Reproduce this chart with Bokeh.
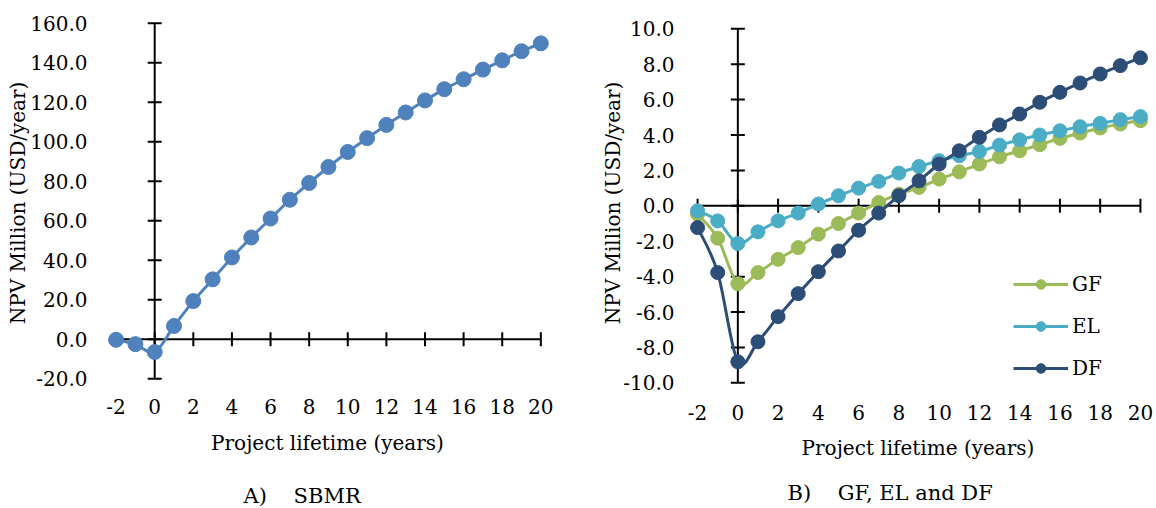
import math
from bokeh.plotting import figure
from bokeh.models import (LinearAxis, FixedTicker, NumeralTickFormatter, Range1d,
                          Legend, LegendItem, Title)
from bokeh.layouts import row
from bokeh.embed import file_html
from bokeh.resources import INLINE

# ---- data ----
years = list(range(-2, 21))
x_ticks = list(range(-2, 21, 2))
sbmr_ticks = list(range(-20, 161, 20))
right_ticks = list(range(-10, 11, 2))
sbmr = [-0.3, -2.5, -6.5, 6.7, 19.3, 30.3, 41.4, 51.5, 61.1, 70.6, 79.1, 87.2, 94.8,
        101.8, 108.5, 114.8, 120.9, 126.6, 131.6, 136.5, 141.2, 145.8, 149.8]
gf = [-0.47, -1.83, -4.4, -3.77, -3.02, -2.36, -1.6, -1.0, -0.41, 0.19, 0.66, 1.04, 1.51,
      1.92, 2.36, 2.77, 3.11, 3.45, 3.81, 4.11, 4.4, 4.62, 4.81]
el = [-0.28, -0.85, -2.13, -1.47, -0.85, -0.41, 0.1, 0.57, 1.0, 1.38, 1.85, 2.22, 2.55,
      2.83, 3.07, 3.43, 3.73, 4.0, 4.24, 4.47, 4.66, 4.87, 5.04]
df = [-1.23, -3.77, -8.81, -7.68, -6.26, -4.96, -3.72, -2.55, -1.38, -0.41, 0.57, 1.41, 2.36,
      3.11, 3.87, 4.57, 5.19, 5.85, 6.41, 6.94, 7.45, 7.92, 8.36]

FONT = "DejaVu Serif"
FS = "20px"


def smooth_segments(xs, ys):
    """Bezier control points (Catmull-Rom style) for a smoothed line through the data."""
    n = len(xs)
    seg = dict(x0=[], y0=[], x1=[], y1=[], cx0=[], cy0=[], cx1=[], cy1=[])
    for i in range(n - 1):
        a = i - 1 if i > 0 else i
        d = i + 2 if i + 2 < n else i + 1
        seg["x0"].append(xs[i]); seg["y0"].append(ys[i])
        seg["x1"].append(xs[i + 1]); seg["y1"].append(ys[i + 1])
        seg["cx0"].append(xs[i] + (xs[i + 1] - xs[a]) / 6)
        seg["cy0"].append(ys[i] + (ys[i + 1] - ys[a]) / 6)
        seg["cx1"].append(xs[i + 1] - (xs[d] - xs[i]) / 6)
        seg["cy1"].append(ys[i + 1] - (ys[d] - ys[i]) / 6)
    return seg


def make_fig(ylo, yhi, y_ticks, mb_left, mb_right,
             ylab_standoff, ylab_axis_standoff, xlab_standoff, xlab_axis_standoff,
             caption, cap_offset, spacer_standoff):
    p = figure(width=578, height=508, x_range=Range1d(-2.6, 20.5), y_range=Range1d(ylo, yhi),
               output_backend="svg", toolbar_location=None,
               x_axis_type=None, y_axis_type=None,
               min_border_left=mb_left, min_border_right=mb_right,
               min_border_top=20, min_border_bottom=123)
    p.outline_line_color = None
    p.xgrid.visible = False
    p.ygrid.visible = False

    # tick labels at the frame edges ("low" label position)
    ly = LinearAxis(ticker=FixedTicker(ticks=y_ticks),
                    formatter=NumeralTickFormatter(format="0.0"),
                    axis_label="NPV Million (USD/year)",
                    axis_line_color=None, major_tick_line_color=None, minor_tick_line_color=None,
                    major_label_standoff=ylab_standoff, axis_label_standoff=ylab_axis_standoff,
                    major_label_text_font=FONT, major_label_text_font_size=FS,
                    major_label_text_color="black",
                    axis_label_text_font=FONT, axis_label_text_font_size=FS,
                    axis_label_text_font_style="normal", axis_label_text_color="black")
    p.add_layout(ly, "left")
    lx = LinearAxis(ticker=FixedTicker(ticks=x_ticks),
                    formatter=NumeralTickFormatter(format="0"),
                    axis_label="Project lifetime (years)",
                    axis_line_color=None, major_tick_line_color=None, minor_tick_line_color=None,
                    major_label_standoff=xlab_standoff, axis_label_standoff=xlab_axis_standoff,
                    major_label_text_font=FONT, major_label_text_font_size=FS,
                    major_label_text_color="black",
                    axis_label_text_font=FONT, axis_label_text_font_size=FS,
                    axis_label_text_font_style="normal", axis_label_text_color="black")
    p.add_layout(lx, "below")

    # axes crossing at zero, with cross ticks
    p.segment(x0=[x_ticks[0]], y0=[0], x1=[x_ticks[-1]], y1=[0], line_color="black", line_width=2)
    p.segment(x0=[0], y0=[y_ticks[0]], x1=[0], y1=[y_ticks[-1]], line_color="black", line_width=2)
    p.scatter(x_ticks, [0] * len(x_ticks), marker="dash", angle=math.pi / 2, size=14,
              line_color="black", line_width=2)
    p.scatter([0] * len(y_ticks), y_ticks, marker="dash", size=14,
              line_color="black", line_width=2)

    # spacer + caption under the axis title
    spacer = Title(text="\u00a0", text_font_size="1px", standoff=spacer_standoff)
    p.add_layout(spacer, "below")
    t = Title(text=caption, align="left", offset=cap_offset, text_font=FONT,
              text_font_size="21px", text_font_style="normal", text_color="black",
              standoff=1)
    p.add_layout(t, "below")
    return p


def add_series(p, vals, col, size):
    r1 = p.bezier(line_color=col, line_width=3, **smooth_segments(years, vals))
    r2 = p.scatter(years, vals, size=size, fill_color=col, line_color=col)
    return r1, r2


# ---- left: SBMR ----
p1 = make_fig(-23.44, 161.37, sbmr_ticks, 104, 28, 11, -3, 7, 14,
              "A)\u00a0\u00a0\u00a0\u00a0SBMR", 139, 21)
add_series(p1, sbmr, "#4F81BD", 15)

# ---- right: GF, EL, DF ----
p2 = make_fig(-10.15, 10.47, right_ticks, 107, 6, 5, -5, 13, 13,
              "B)\u00a0\u00a0\u00a0\u00a0GF, EL and DF", 102, 13)
items = []
for name, vals, col in [("GF", gf, "#9BBB59"), ("EL", el, "#4BACC6"), ("DF", df, "#2C4D75")]:
    r1, r2 = add_series(p2, vals, col, 14)
    items.append(LegendItem(label=name, renderers=[r1, r2]))

leg = Legend(items=items, location=(328, 5), orientation="vertical",
             glyph_width=55, glyph_height=24, label_height=24, spacing=18,
             padding=0, margin=0, border_line_color=None, background_fill_alpha=0,
             label_text_font=FONT, label_text_font_size=FS, label_standoff=4,
             label_text_color="black")
p2.add_layout(leg)

layout = row(p1, p2)
open("out.html", "w").write(file_html(layout, INLINE))
